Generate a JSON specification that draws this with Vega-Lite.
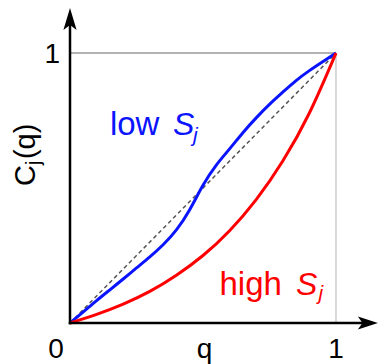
{
  "$schema": "https://vega.github.io/schema/vega-lite/v6.json",
  "width": 308,
  "height": 315,
  "autosize": {"type": "none"},
  "padding": {"left": 70, "top": 8, "right": 1, "bottom": 41},
  "config": {"view": {"stroke": null}, "font": "Liberation Sans"},
  "datasets": {
    "curves": [
      {"series": "low", "q": 0, "C": 0},
      {"series": "low", "q": 0.05, "C": 0.041},
      {"series": "low", "q": 0.1, "C": 0.083},
      {"series": "low", "q": 0.15, "C": 0.123},
      {"series": "low", "q": 0.2, "C": 0.163},
      {"series": "low", "q": 0.25, "C": 0.204},
      {"series": "low", "q": 0.3, "C": 0.245},
      {"series": "low", "q": 0.35, "C": 0.29},
      {"series": "low", "q": 0.4, "C": 0.345},
      {"series": "low", "q": 0.45, "C": 0.42},
      {"series": "low", "q": 0.5, "C": 0.51},
      {"series": "low", "q": 0.55, "C": 0.585},
      {"series": "low", "q": 0.6, "C": 0.645},
      {"series": "low", "q": 0.65, "C": 0.705},
      {"series": "low", "q": 0.7, "C": 0.76},
      {"series": "low", "q": 0.75, "C": 0.81},
      {"series": "low", "q": 0.8, "C": 0.855},
      {"series": "low", "q": 0.85, "C": 0.898},
      {"series": "low", "q": 0.9, "C": 0.935},
      {"series": "low", "q": 0.95, "C": 0.968},
      {"series": "low", "q": 1, "C": 1},
      {"series": "high", "q": 0, "C": 0},
      {"series": "high", "q": 0.1, "C": 0.032},
      {"series": "high", "q": 0.2, "C": 0.07},
      {"series": "high", "q": 0.3, "C": 0.117},
      {"series": "high", "q": 0.4, "C": 0.177},
      {"series": "high", "q": 0.5, "C": 0.25},
      {"series": "high", "q": 0.6, "C": 0.342},
      {"series": "high", "q": 0.7, "C": 0.457},
      {"series": "high", "q": 0.8, "C": 0.6},
      {"series": "high", "q": 0.9, "C": 0.778},
      {"series": "high", "q": 1, "C": 1}
    ],
    "diagonal": [{"q": 0, "C": 0}, {"q": 1, "C": 1}],
    "boxTop": [{"q": 0, "C": 1, "q2": 1, "C2": 1}],
    "boxRight": [{"q": 1, "C": 0, "q2": 1, "C2": 1}],
    "axes": [
      {"q": 0, "C": 0, "q2": 1.12, "C2": 0},
      {"q": 0, "C": 0, "q2": 0, "C2": 1.13}
    ],
    "arrowUp": [{"q": 0, "C": 1.126}],
    "arrowRight": [{"q": 1.12, "C": 0}],
    "xticks": [
      {"q": 0, "C": 0, "text": "0"},
      {"q": 0.506, "C": 0, "text": "q"},
      {"q": 1, "C": 0, "text": "1"}
    ],
    "yticks": [{"q": 0, "C": 1, "text": "1"}],
    "labels": [
      {"series": "low", "kind": "word", "q": 0.15, "C": 0.696, "text": "low"},
      {"series": "low", "kind": "sym", "q": 0.387, "C": 0.696, "text": "S"},
      {"series": "low", "kind": "sub", "q": 0.462, "C": 0.672, "text": "j"},
      {"series": "high", "kind": "word", "q": 0.562, "C": 0.104, "text": "high"},
      {"series": "high", "kind": "sym", "q": 0.85, "C": 0.104, "text": "S"},
      {"series": "high", "kind": "sub", "q": 0.934, "C": 0.085, "text": "j"}
    ],
    "ytitle": [{"q": 0, "C": 0.5}]
  },
  "layer": [
    {
      "data": {"name": "boxTop"},
      "mark": {"type": "rule", "color": "#999999", "strokeWidth": 1.5},
      "encoding": {
        "x": {"field": "q", "type": "quantitative", "scale": {"domain": [0, 1.158]}, "axis": null},
        "y": {"field": "C", "type": "quantitative", "scale": {"domain": [0, 1.167]}, "axis": null},
        "x2": {"field": "q2"},
        "y2": {"field": "C2"}
      }
    },
    {
      "data": {"name": "boxRight"},
      "mark": {"type": "rule", "color": "#cccccc", "strokeWidth": 1.5},
      "encoding": {
        "x": {"field": "q", "type": "quantitative", "scale": {"domain": [0, 1.158]}, "axis": null},
        "y": {"field": "C", "type": "quantitative", "scale": {"domain": [0, 1.167]}, "axis": null},
        "x2": {"field": "q2"},
        "y2": {"field": "C2"}
      }
    },
    {
      "data": {"name": "diagonal"},
      "mark": {"type": "line", "color": "#555555", "strokeWidth": 1.5, "strokeDash": [4, 3]},
      "encoding": {
        "x": {"field": "q", "type": "quantitative", "scale": {"domain": [0, 1.158]}, "axis": null},
        "y": {"field": "C", "type": "quantitative", "scale": {"domain": [0, 1.167]}, "axis": null}
      }
    },
    {
      "data": {"name": "curves"},
      "mark": {"type": "line", "strokeWidth": 3, "interpolate": "natural"},
      "encoding": {
        "x": {"field": "q", "type": "quantitative", "scale": {"domain": [0, 1.158]}, "axis": null},
        "y": {"field": "C", "type": "quantitative", "scale": {"domain": [0, 1.167]}, "axis": null},
        "color": {"field": "series", "type": "nominal", "scale": {"domain": ["low", "high"], "range": ["#0a14ff", "#ff0000"]}, "legend": null}
      }
    },
    {
      "data": {"name": "axes"},
      "mark": {"type": "rule", "color": "#000000", "strokeWidth": 2.5, "strokeCap": "square"},
      "encoding": {
        "x": {"field": "q", "type": "quantitative", "scale": {"domain": [0, 1.158]}, "axis": null},
        "y": {"field": "C", "type": "quantitative", "scale": {"domain": [0, 1.167]}, "axis": null},
        "x2": {"field": "q2"},
        "y2": {"field": "C2"}
      }
    },
    {
      "data": {"name": "arrowUp"},
      "mark": {"type": "point", "shape": "M0,-1L0.6,1L0,0.55L-0.6,1Z", "size": 484, "filled": true, "color": "#000000", "opacity": 1},
      "encoding": {
        "x": {"field": "q", "type": "quantitative", "scale": {"domain": [0, 1.158]}, "axis": null},
        "y": {"field": "C", "type": "quantitative", "scale": {"domain": [0, 1.167]}, "axis": null}
      }
    },
    {
      "data": {"name": "arrowRight"},
      "mark": {"type": "point", "shape": "M1,0L-1,-0.65L-0.55,0L-1,0.65Z", "size": 400, "filled": true, "color": "#000000", "opacity": 1},
      "encoding": {
        "x": {"field": "q", "type": "quantitative", "scale": {"domain": [0, 1.158]}, "axis": null},
        "y": {"field": "C", "type": "quantitative", "scale": {"domain": [0, 1.167]}, "axis": null}
      }
    },
    {
      "data": {"name": "xticks"},
      "transform": [{"filter": "datum.text === '0'"}],
      "mark": {"type": "text", "fontSize": 28, "align": "center", "baseline": "alphabetic", "dx": -14, "dy": 35, "color": "#000000"},
      "encoding": {
        "x": {"field": "q", "type": "quantitative", "scale": {"domain": [0, 1.158]}, "axis": null},
        "y": {"field": "C", "type": "quantitative", "scale": {"domain": [0, 1.167]}, "axis": null},
        "text": {"field": "text"}
      }
    },
    {
      "data": {"name": "xticks"},
      "transform": [{"filter": "datum.text !== '0'"}],
      "mark": {"type": "text", "fontSize": 28, "align": "center", "baseline": "alphabetic", "dy": 35, "color": "#000000"},
      "encoding": {
        "x": {"field": "q", "type": "quantitative", "scale": {"domain": [0, 1.158]}, "axis": null},
        "y": {"field": "C", "type": "quantitative", "scale": {"domain": [0, 1.167]}, "axis": null},
        "text": {"field": "text"}
      }
    },
    {
      "data": {"name": "yticks"},
      "mark": {"type": "text", "fontSize": 28, "align": "right", "baseline": "alphabetic", "dx": -10, "dy": 10, "color": "#000000"},
      "encoding": {
        "x": {"field": "q", "type": "quantitative", "scale": {"domain": [0, 1.158]}, "axis": null},
        "y": {"field": "C", "type": "quantitative", "scale": {"domain": [0, 1.167]}, "axis": null},
        "text": {"field": "text"}
      }
    },
    {
      "data": {"name": "ytitle"},
      "mark": {"type": "text", "text": "C", "fontSize": 29, "angle": 270, "align": "left", "baseline": "alphabetic", "dx": 2, "dy": -35, "color": "#000000"},
      "encoding": {
        "x": {"field": "q", "type": "quantitative", "scale": {"domain": [0, 1.158]}, "axis": null},
        "y": {"field": "C", "type": "quantitative", "scale": {"domain": [0, 1.167]}, "axis": null}
      }
    },
    {
      "data": {"name": "ytitle"},
      "mark": {"type": "text", "text": "j", "fontSize": 20, "angle": 270, "align": "left", "baseline": "alphabetic", "dx": 23, "dy": -30, "color": "#000000"},
      "encoding": {
        "x": {"field": "q", "type": "quantitative", "scale": {"domain": [0, 1.158]}, "axis": null},
        "y": {"field": "C", "type": "quantitative", "scale": {"domain": [0, 1.167]}, "axis": null}
      }
    },
    {
      "data": {"name": "ytitle"},
      "mark": {"type": "text", "text": "(q)", "fontSize": 29, "angle": 270, "align": "left", "baseline": "alphabetic", "dx": 29, "dy": -35, "color": "#000000"},
      "encoding": {
        "x": {"field": "q", "type": "quantitative", "scale": {"domain": [0, 1.158]}, "axis": null},
        "y": {"field": "C", "type": "quantitative", "scale": {"domain": [0, 1.167]}, "axis": null}
      }
    },
    {
      "data": {"name": "labels"},
      "transform": [{"filter": "datum.kind === 'word'"}],
      "mark": {"type": "text", "fontSize": 33, "align": "left", "baseline": "alphabetic"},
      "encoding": {
        "x": {"field": "q", "type": "quantitative", "scale": {"domain": [0, 1.158]}, "axis": null},
        "y": {"field": "C", "type": "quantitative", "scale": {"domain": [0, 1.167]}, "axis": null},
        "text": {"field": "text"},
        "color": {"field": "series", "type": "nominal", "scale": {"domain": ["low", "high"], "range": ["#0a14ff", "#ff0000"]}, "legend": null}
      }
    },
    {
      "data": {"name": "labels"},
      "transform": [{"filter": "datum.kind === 'sym'"}],
      "mark": {"type": "text", "fontSize": 32, "fontStyle": "italic", "align": "left", "baseline": "alphabetic"},
      "encoding": {
        "x": {"field": "q", "type": "quantitative", "scale": {"domain": [0, 1.158]}, "axis": null},
        "y": {"field": "C", "type": "quantitative", "scale": {"domain": [0, 1.167]}, "axis": null},
        "text": {"field": "text"},
        "color": {"field": "series", "type": "nominal", "scale": {"domain": ["low", "high"], "range": ["#0a14ff", "#ff0000"]}, "legend": null}
      }
    },
    {
      "data": {"name": "labels"},
      "transform": [{"filter": "datum.kind === 'sub'"}],
      "mark": {"type": "text", "fontSize": 21, "fontStyle": "italic", "align": "left", "baseline": "alphabetic"},
      "encoding": {
        "x": {"field": "q", "type": "quantitative", "scale": {"domain": [0, 1.158]}, "axis": null},
        "y": {"field": "C", "type": "quantitative", "scale": {"domain": [0, 1.167]}, "axis": null},
        "text": {"field": "text"},
        "color": {"field": "series", "type": "nominal", "scale": {"domain": ["low", "high"], "range": ["#0a14ff", "#ff0000"]}, "legend": null}
      }
    }
  ]
}
